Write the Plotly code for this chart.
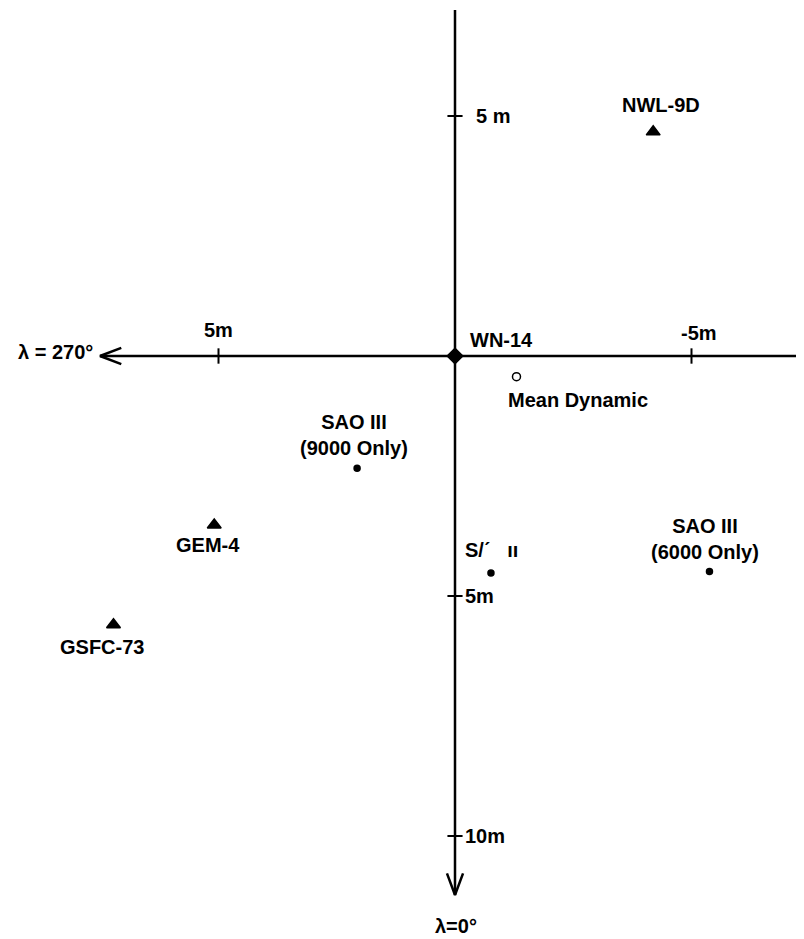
import plotly.graph_objects as go

# Solution positions relative to WN-14 (metres); x positive to the left (toward λ=270°),
# y positive downward (toward λ=0°)
names = ["NWL-9D", "WN-14", "Mean Dynamic", "SAO III<br>(9000 Only)", "GEM-4",
         "GSFC-73", "SAO III<br>(6000 Only)", "S/ˊ   ıı"]
dx_m = [-4.19, 0.0, -1.30, 2.07, 5.09, 7.22, -5.38, -0.76]
dy_m = [-4.67, 0.0, 0.43, 2.34, 3.52, 5.60, 4.49, 4.52]
kinds = ["tri", "origin", "open", "dot", "tri", "tri", "dot", "dot"]

x_ticks = [5, -5]
x_tick_labels = ["5m", "-5m"]
y_ticks = [-5, 5, 10]
y_tick_labels = ["5 m", "5m", "10m"]

# page body has an 8px margin; figure drawn in the remaining area
W, H = 796, 931
PXX, PXY = 47.3, 48.0
OX, OY = 447, 348
x_range = [OX / PXX, -(W - OX) / PXX]
y_range = [(H - OY) / PXY, -OY / PXY]

FONT = "Liberation Sans"
FS = 20
INK = "black"
F = dict(family=FONT, size=FS, color=INK, weight="bold")

fig = go.Figure()

# axes lines
x_left_end = (OX - 92) / PXX
y_top_end = -(OY - 2) / PXY
y_bot_end = (887 - OY) / PXY
LW = 2.5
fig.add_trace(go.Scatter(x=[x_left_end, x_range[1]], y=[0, 0], mode="lines",
                         line=dict(color=INK, width=LW), hoverinfo="skip"))
fig.add_trace(go.Scatter(x=[0, 0], y=[y_top_end, y_bot_end], mode="lines",
                         line=dict(color=INK, width=LW), hoverinfo="skip"))
# arrowheads
ah_l, ah_w = 0.45, 0.17
fig.add_trace(go.Scatter(x=[x_left_end - ah_l, x_left_end, x_left_end - ah_l],
                         y=[-ah_w, 0, ah_w], mode="lines",
                         line=dict(color=INK, width=LW), hoverinfo="skip"))
fig.add_trace(go.Scatter(x=[ah_w, 0, -ah_w],
                         y=[y_bot_end - ah_l, y_bot_end, y_bot_end - ah_l], mode="lines",
                         line=dict(color=INK, width=LW), hoverinfo="skip"))

# ticks
tk = 0.16
for t in x_ticks:
    fig.add_trace(go.Scatter(x=[t, t], y=[-tk, tk], mode="lines",
                             line=dict(color=INK, width=2), hoverinfo="skip"))
for t in y_ticks:
    fig.add_trace(go.Scatter(x=[tk, -tk], y=[t, t], mode="lines",
                             line=dict(color=INK, width=2), hoverinfo="skip"))

# markers
sym = {"tri": ("triangle-up", 12), "origin": ("diamond", 12),
       "open": ("circle-open", 8), "dot": ("circle", 6)}
for kind in ["tri", "origin", "open", "dot"]:
    xs = [x for x, k in zip(dx_m, kinds) if k == kind]
    ys = [y for y, k in zip(dy_m, kinds) if k == kind]
    s, sz = sym[kind]
    fig.add_trace(go.Scatter(x=xs, y=ys, mode="markers",
                             marker=dict(symbol=s, size=sz, color=INK,
                                         line=dict(color=INK, width=1.5)),
                             hoverinfo="skip"))

# label placement (pixel offsets from point)
offsets = [
    (8, 27, "center"),
    (13, 16, "left"),
    (-10, -23, "left"),
    (-3, 33, "center"),
    (-6, -20, "center"),
    (-11, -22, "center"),
    (-4, 33, "center"),
    (-28, 23, "left"),
]
annotations = []
for n, x, y, (xs, ys, xa) in zip(names, dx_m, dy_m, offsets):
    annotations.append(dict(x=x, y=y, text=n, showarrow=False, xanchor=xa,
                            yanchor="middle", xshift=xs, yshift=ys, font=F))

# tick labels
annotations.append(dict(x=x_ticks[0], y=0, text=x_tick_labels[0], showarrow=False,
                        xshift=0, yshift=26, font=F))
annotations.append(dict(x=x_ticks[1], y=0, text=x_tick_labels[1], showarrow=False,
                        xshift=7, yshift=23, font=F))
for t, lab, xs in zip(y_ticks, y_tick_labels, [19, 8, 8]):
    annotations.append(dict(x=0, y=t, text=lab, showarrow=False, xanchor="left",
                            xshift=xs, yshift=0, font=F))

# axis direction labels
annotations.append(dict(x=x_left_end, y=0, text="λ = 270°", showarrow=False,
                        xanchor="right", xshift=-5, yshift=4, font=F))
annotations.append(dict(x=0, y=y_bot_end, text="λ=0°", showarrow=False,
                        xshift=1, yshift=-31, font=F))

fig.update_layout(
    width=W, height=H, margin=dict(l=0, r=0, t=0, b=0),
    paper_bgcolor="white", plot_bgcolor="white", showlegend=False,
    xaxis=dict(range=x_range, visible=False, showgrid=False, zeroline=False),
    yaxis=dict(range=y_range, visible=False, showgrid=False, zeroline=False),
    annotations=annotations,
)
fig.write_html("out.html")
